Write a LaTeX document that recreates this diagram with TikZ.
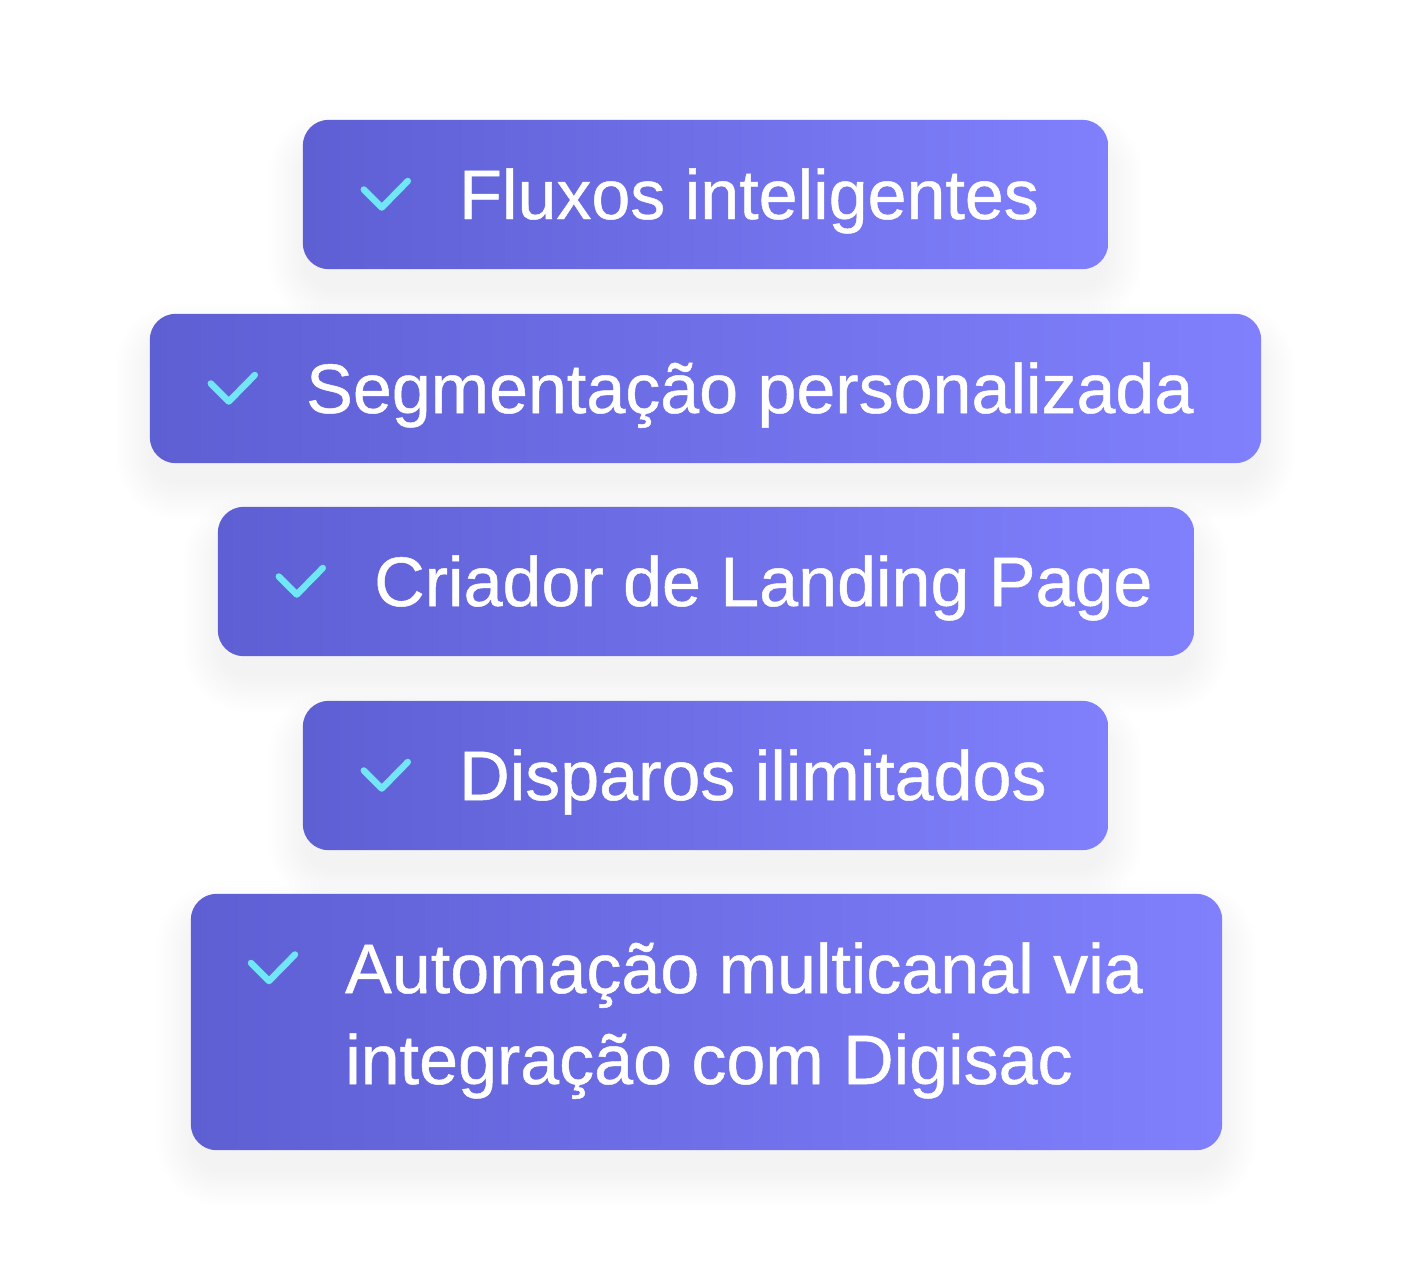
\documentclass[tikz,border=0pt]{standalone}
\usepackage{fontspec}
\setmainfont{Liberation Sans}[FakeBold=0.7]
\usetikzlibrary{calc}
\definecolor{gleft}{HTML}{5E5FD3}
\definecolor{gright}{HTML}{8080FD}
\definecolor{checkc}{HTML}{70E6F6}
\definecolor{shadowc}{HTML}{505078}
\begin{document}
\begin{tikzpicture}[x=1pt,y=-1pt,
  boxn/.style={rectangle, draw=none, fill=none, inner sep=0pt},
  boxfill/.style={rounded corners=26pt, left color=gleft, right color=gright, draw=none},
  checkm/.style={draw=checkc, line width=6.5pt, line cap=round, line join=round},
  itemtext/.style={text=white, font=\fontsize{70}{91}\selectfont, anchor=base west, inner sep=0pt}]
\path[use as bounding box, fill=white] (0,0) rectangle (1412,1271);
% soft shadows
\foreach \l/\t/\r/\b in {303/120/1108/269, 150/314/1261/463, 218/507/1194/656, 303/701/1108/850, 191/894/1222/1150} {
  \foreach \i in {1,...,12} {
    \pgfmathsetmacro\e{\i*3.2}
    \pgfmathsetmacro\rc{26+\e}
    \fill[shadowc, opacity=0.0055, rounded corners=\rc pt] (\l-\e+4, \t-\e+28) rectangle (\r+\e-4, \b+\e+18);
  }
}
% boxes
\node[boxn, minimum width=805pt, minimum height=149pt] (b1) at (705.5,194.5) {};
\node[boxn, minimum width=1111pt, minimum height=149pt] (b2) at (705.5,388.5) {};
\node[boxn, minimum width=976pt, minimum height=149pt] (b3) at (706,581.5) {};
\node[boxn, minimum width=805pt, minimum height=149pt] (b4) at (705.5,775.5) {};
\node[boxn, minimum width=1031pt, minimum height=256pt] (b5) at (706.5,1022) {};
\foreach \n in {b1,b2,b3,b4,b5} {
  \shade[boxfill] (\n.north west) rectangle (\n.south east);
}
% check marks
\draw[checkm] ($(b1.west)+(61,-5)$) -- ++(18,18) -- ++(26,-26.5);
\draw[checkm] ($(b2.west)+(61,-5)$) -- ++(18,18) -- ++(26,-26.5);
\draw[checkm] ($(b3.west)+(61,-5)$) -- ++(18,18) -- ++(26,-26.5);
\draw[checkm] ($(b4.west)+(61,-5)$) -- ++(18,18) -- ++(26,-26.5);
\coordinate (c5) at (191,968);
\draw[checkm] ($(c5)+(60,-5)$) -- ++(18,18) -- ++(26,-26.5);
% texts
\node[itemtext] (t1) at (459,219) {Fluxos inteligentes};
\node[itemtext] (t2) at (306,413) {Segmentação personalizada};
\node[itemtext] (t3) at (374,606) {Criador de Landing Page};
\node[itemtext] (t4) at (459,800) {Disparos ilimitados};
\node[itemtext] (t5a) at (345,993) {Automação multicanal via};
\node[itemtext] (t5b) at (345,1084) {integração com Digisac};
\end{tikzpicture}
\end{document}
